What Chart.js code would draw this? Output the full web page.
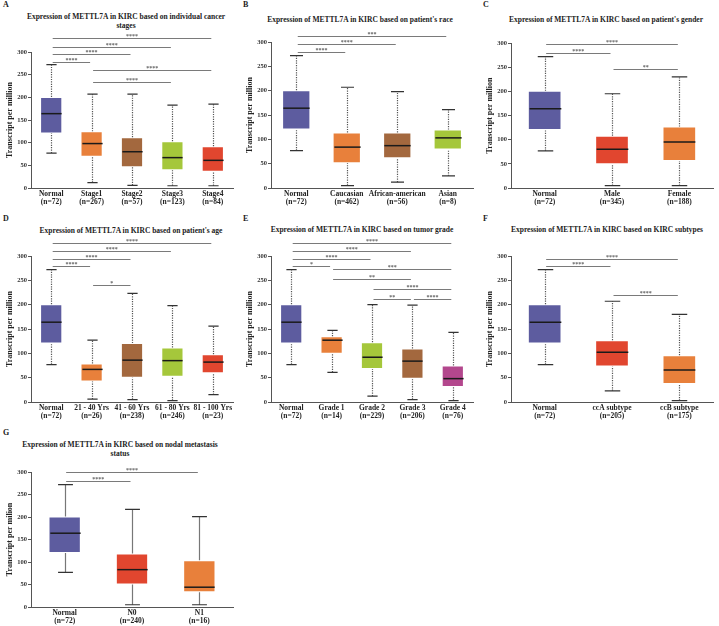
<!DOCTYPE html>
<html lang="en">
<head>
<meta charset="UTF-8" />
<title>METTL7A expression in KIRC</title>
<script src="https://cdn.jsdelivr.net/npm/chart.js"></script>
<style>
  body { margin: 0; background: #fff; width: 719px; height: 626px; position: relative; overflow: hidden; font-family: "Liberation Serif", serif; color: #222; }
  canvas { position: absolute; }
  .letter { position: absolute; font-weight: bold; font-size: 8px; line-height: 10px; }
  .title { position: absolute; font-weight: bold; font-size: 7.5px; line-height: 9px; text-align: center; white-space: nowrap; transform: translateX(-50%); }
</style>
</head>
<body>
  <div class="letter" style="left:3px;top:0px;">A</div>
  <div class="letter" style="left:243px;top:0px;">B</div>
  <div class="letter" style="left:483px;top:0px;">C</div>
  <div class="letter" style="left:3px;top:214px;">D</div>
  <div class="letter" style="left:243px;top:214px;">E</div>
  <div class="letter" style="left:483px;top:214px;">F</div>
  <div class="letter" style="left:3px;top:428px;">G</div>

  <div class="title" style="left:126px;top:12px;">Expression of METTL7A in KIRC based on individual cancer<br>stages</div>
  <div class="title" style="left:360px;top:15px;">Expression of METTL7A in KIRC based on patient's race</div>
  <div class="title" style="left:606px;top:15px;">Expression of METTL7A in KIRC based on patient's gender</div>
  <div class="title" style="left:131px;top:226px;">Expression of METTL7A in KIRC based on patient's age</div>
  <div class="title" style="left:362px;top:225px;">Expression of METTL7A in KIRC based on tumor grade</div>
  <div class="title" style="left:607px;top:225px;">Expression of METTL7A in KIRC based on KIRC subtypes</div>
  <div class="title" style="left:120px;top:440px;">Expression of METTL7A in KIRC based on nodal metastasis<br>status</div>

  <canvas id="chartA" width="240" height="210" style="left:0;top:0;"></canvas>
  <canvas id="chartB" width="240" height="210" style="left:240px;top:0;"></canvas>
  <canvas id="chartC" width="239" height="210" style="left:480px;top:0;"></canvas>
  <canvas id="chartD" width="240" height="215" style="left:0;top:205px;"></canvas>
  <canvas id="chartE" width="240" height="215" style="left:240px;top:205px;"></canvas>
  <canvas id="chartF" width="239" height="215" style="left:480px;top:205px;"></canvas>
  <canvas id="chartG" width="240" height="216" style="left:0;top:410px;"></canvas>

  <script>
    // box = [min, q1, median, q3, max] in transcripts per million
    const normalBox = [77, 120, 164, 201, 272];

    // A: cancer stages
    const stageLabels = [['Normal', '(n=72)'], ['Stage1', '(n=267)'], ['Stage2', '(n=57)'], ['Stage3', '(n=123)'], ['Stage4', '(n=84)']];
    const stageBoxes = [normalBox, [12, 69, 98, 125, 207], [6, 46, 80, 112, 207], [5, 39, 67, 103, 183], [5, 36, 61, 92, 185]];
    // significance: [from, to, level, stars]
    const stageSig = [[0, 4, 331, '****'], [0, 3, 312, '****'], [0, 2, 295, '****'], [0, 1, 278, '****'], [1, 4, 260, '****'], [1, 3, 234, '****']];

    // B: race
    const raceLabels = [['Normal', '(n=72)'], ['Caucasian', '(n=462)'], ['African-american', '(n=56)'], ['Asian', '(n=8)']];
    const raceBoxes = [normalBox, [5, 51, 84, 114, 207], [12, 61, 87, 114, 198], [25, 79, 103, 120, 161]];
    const raceSig = [[0, 3, 313, '***'], [0, 2, 295, '****'], [0, 1, 279, '****']];

    // C: gender
    const genderLabels = [['Normal', '(n=72)'], ['Male', '(n=345)'], ['Female', '(n=188)']];
    const genderBoxes = [normalBox, [5, 49, 80, 108, 195], [5, 56, 95, 127, 230]];
    const genderSig = [[0, 2, 297, '****'], [0, 1, 280, '****'], [1, 2, 246, '**']];

    // D: age
    const ageLabels = [['Normal', '(n=72)'], ['21 - 40 Yrs', '(n=26)'], ['41 - 60 Yrs', '(n=238)'], ['61 - 80 Yrs', '(n=246)'], ['81 - 100 Yrs', '(n=23)']];
    const ageBoxes = [normalBox, [6, 42, 67, 79, 127], [5, 50, 86, 121, 223], [3, 52, 85, 112, 198], [15, 59, 82, 98, 156]];
    const ageSig = [[0, 4, 327, '****'], [0, 3, 310, '****'], [0, 2, 294, '****'], [0, 1, 279, '****'], [1, 2, 240, '*']];

    // E: tumor grade
    const gradeLabels = [['Normal', '(n=72)'], ['Grade 1', '(n=14)'], ['Grade 2', '(n=229)'], ['Grade 3', '(n=206)'], ['Grade 4', '(n=76)']];
    const gradeBoxes = [normalBox, [61, 99, 127, 135, 147], [12, 68, 92, 123, 200], [5, 48, 84, 110, 199], [3, 31, 48, 75, 143]];
    const gradeSig = [[0, 4, 327, '****'], [0, 3, 310, '****'], [0, 2, 294, '****'], [0, 1, 279, '*'], [1, 4, 273, '***'],
                      [1, 3, 253, '**'], [2, 4, 232, '****'], [2, 3, 211, '**'], [3, 4, 211, '****']];

    // F: KIRC subtypes
    const subtypeLabels = [['Normal', '(n=72)'], ['ccA subtype', '(n=205)'], ['ccB subtype', '(n=175)']];
    const subtypeBoxes = [normalBox, [23, 73, 102, 127, 207], [3, 37, 66, 96, 180]];
    const subtypeSig = [[0, 2, 294, '****'], [0, 1, 279, '****'], [1, 2, 220, '****']];

    // G: nodal metastasis
    const nodalLabels = [['Normal', '(n=72)'], ['N0', '(n=240)'], ['N1', '(n=16)']];
    const nodalBoxes = [normalBox, [5, 50, 83, 119, 217], [5, 33, 44, 104, 201]];
    const nodalSig = [[0, 2, 299, '****'], [0, 1, 281, '****']];

    const BLUE = '#5d5c9f', ORANGE = '#e8803b', BROWN = '#a3683e', LIME = '#a5c73b', RED = '#e1462f', PINK = '#b3478d';
    const FONT = 'Liberation Serif';

    // whiskers, medians and the significance lines, placed with the chart's own scales
    const boxExtras = {
      id: 'boxExtras',
      afterDatasetsDraw(chart, args, o) {
        const { ctx, scales: { x, y } } = chart;
        const bars = chart.getDatasetMeta(0).data;
        ctx.save();
        o.boxes.forEach((b, i) => {
          const cx = Math.round(x.getPixelForValue(i)) + 0.5;
          const w = bars[i].width;
          const cap = w * 0.46;
          ctx.strokeStyle = o.whiskerColor;
          ctx.lineWidth = 1.2;
          ctx.setLineDash(o.dash);
          ctx.beginPath();
          ctx.moveTo(cx, y.getPixelForValue(b[0]));
          ctx.lineTo(cx, y.getPixelForValue(b[1]));
          ctx.moveTo(cx, y.getPixelForValue(b[3]));
          ctx.lineTo(cx, y.getPixelForValue(b[4]));
          ctx.stroke();
          ctx.setLineDash([]);
          ctx.strokeStyle = '#333';
          ctx.beginPath();
          ctx.moveTo(cx - cap / 2, y.getPixelForValue(b[0]));
          ctx.lineTo(cx + cap / 2, y.getPixelForValue(b[0]));
          ctx.moveTo(cx - cap / 2, y.getPixelForValue(b[4]));
          ctx.lineTo(cx + cap / 2, y.getPixelForValue(b[4]));
          ctx.stroke();
          ctx.strokeStyle = '#1a1a1a';
          ctx.lineWidth = 1.5;
          ctx.beginPath();
          ctx.moveTo(cx - w / 2 + 1, y.getPixelForValue(b[2]));
          ctx.lineTo(cx + w / 2 - 1, y.getPixelForValue(b[2]));
          ctx.stroke();
        });
        ctx.font = 'bold 6px ' + FONT;
        ctx.textAlign = 'center';
        ctx.textBaseline = 'bottom';
        o.sig.forEach(([a, b, level, stars]) => {
          const x1 = x.getPixelForValue(a) + 1.5;
          const x2 = x.getPixelForValue(b) - 1.5;
          const ly = Math.round(y.getPixelForValue(level)) + 0.5;
          ctx.strokeStyle = '#7a7a7a';
          ctx.lineWidth = 1;
          ctx.beginPath();
          ctx.moveTo(x1, ly);
          ctx.lineTo(x2, ly);
          ctx.stroke();
          ctx.fillStyle = '#666';
          ctx.fillText(stars, (x1 + x2) / 2, ly + 1);
        });
        ctx.restore();
      }
    };

    function boxChart(id, labels, boxes, sig, colors, opt) {
      const canvas = document.getElementById(id);
      new Chart(canvas, {
        type: 'bar',
        data: {
          labels: labels,
          datasets: [{
            data: boxes.map(b => [b[1], b[3]]),
            backgroundColor: colors,
            borderColor: 'rgba(255,255,255,0.75)',
            borderWidth: 1,
            borderSkipped: false,
            barPercentage: opt.bar,
            categoryPercentage: 1
          }]
        },
        options: {
          responsive: false,
          animation: false,
          layout: { padding: { left: 0, right: canvas.width - 233, top: opt.top, bottom: 0 } },
          plugins: {
            legend: { display: false },
            tooltip: { enabled: false },
            boxExtras: { boxes: boxes, sig: sig, whiskerColor: opt.whisker || '#555', dash: opt.dash || [1.2, 1.2] }
          },
          scales: {
            x: {
              grid: { display: false, drawTicks: false },
              border: { color: '#555', width: 1 },
              ticks: { color: '#222', padding: 2, maxRotation: 0, autoSkip: false,
                       font: { family: FONT, weight: 'bold', size: 7.5, lineHeight: 1.1 } },
              afterFit: s => { s.height = canvas.height - opt.bottom; }
            },
            y: {
              min: 0,
              max: 300,
              ticks: { stepSize: 50, color: '#333', padding: 1, font: { family: FONT, weight: 'bold', size: 6.5 } },
              grid: { drawOnChartArea: false, tickLength: 3, color: '#555' },
              border: { color: '#555', width: 1 },
              title: { display: true, text: opt.ytitle || 'Transcript per million', color: '#222',
                       padding: { top: 5, bottom: 0 }, font: { family: FONT, weight: 'bold', size: 8 } },
              afterFit: s => { s.width = 31; }
            }
          }
        },
        plugins: [boxExtras]
      });
    }

    boxChart('chartA', stageLabels, stageBoxes, stageSig, [BLUE, ORANGE, BROWN, LIME, RED], { bar: 0.55, top: 52, bottom: 188 });
    boxChart('chartB', raceLabels, raceBoxes, raceSig, [BLUE, ORANGE, BROWN, LIME], { bar: 0.56, top: 42, bottom: 188 });
    boxChart('chartC', genderLabels, genderBoxes, genderSig, [BLUE, RED, ORANGE], { bar: 0.5, top: 43, bottom: 188 });
    boxChart('chartD', ageLabels, ageBoxes, ageSig, [BLUE, ORANGE, BROWN, LIME, RED], { bar: 0.55, top: 51, bottom: 197 });
    boxChart('chartE', gradeLabels, gradeBoxes, gradeSig, [BLUE, ORANGE, LIME, BROWN, PINK], { bar: 0.55, top: 51, bottom: 197 });
    boxChart('chartF', subtypeLabels, subtypeBoxes, subtypeSig, [BLUE, RED, ORANGE], { bar: 0.5, top: 51, bottom: 197 });
    boxChart('chartG', nodalLabels, nodalBoxes, nodalSig, [BLUE, RED, ORANGE],
             { bar: 0.48, top: 62, bottom: 197, whisker: '#777', dash: [], ytitle: 'Transcript per milion' });
  </script>
</body>
</html>
